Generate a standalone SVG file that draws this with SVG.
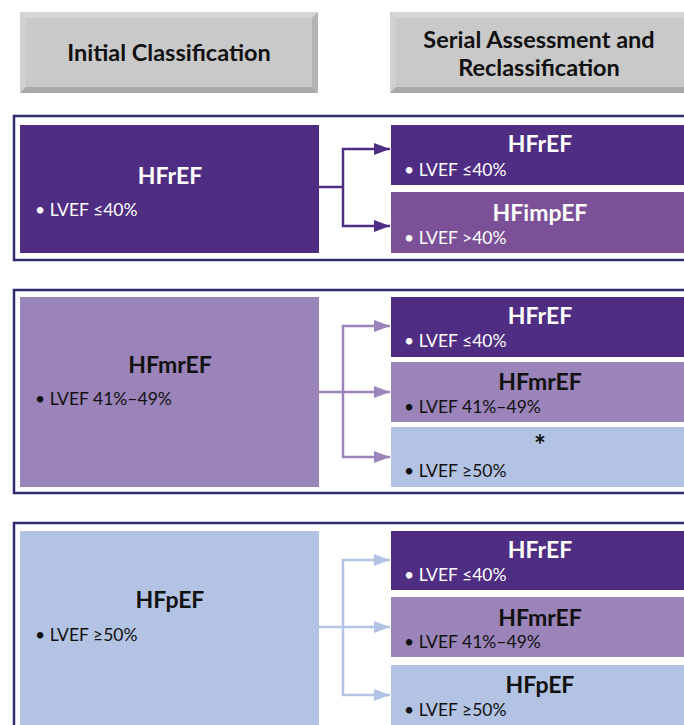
<svg xmlns="http://www.w3.org/2000/svg" width="684" height="725" viewBox="0 0 684 725">
<style>
.hdr{font-family:Lato,"Liberation Sans",sans-serif;font-weight:bold;font-size:23.5px;fill:#111111;text-anchor:middle}
.t{font-family:Lato,"Liberation Sans",sans-serif;font-weight:bold;font-size:23px;text-anchor:middle}
.b{font-family:Lato,"Liberation Sans",sans-serif;font-size:17.5px}
.w{fill:#ffffff}
.k{fill:#111111}
.panel{fill:none;stroke:#2e2c6e;stroke-width:2.5}
.c1{fill:none;stroke:#4f2d82;stroke-width:2.5}
.c2{fill:none;stroke:#9b84b9;stroke-width:2.5}
.c3{fill:none;stroke:#b3c3e3;stroke-width:2.5}
</style>
<defs>
<marker id="a1" viewBox="0 0 16 12" refX="16" refY="6" markerWidth="16" markerHeight="12" markerUnits="userSpaceOnUse" orient="auto"><path d="M0,0 L16,6 L0,12 Z" fill="#4f2d82"/></marker>
<marker id="a2" viewBox="0 0 16 12" refX="16" refY="6" markerWidth="16" markerHeight="12" markerUnits="userSpaceOnUse" orient="auto"><path d="M0,0 L16,6 L0,12 Z" fill="#9b84b9"/></marker>
<marker id="a3" viewBox="0 0 16 12" refX="16" refY="6" markerWidth="16" markerHeight="12" markerUnits="userSpaceOnUse" orient="auto"><path d="M0,0 L16,6 L0,12 Z" fill="#b3c3e3"/></marker>
</defs>
<rect width="684" height="725" fill="#ffffff"/>

<g id="header-initial">
<rect x="20" y="12" width="298" height="81" fill="#c9c9c9"/>
<polygon points="20,12 318,12 312,18 26,18" fill="#d5d5d5"/>
<polygon points="20,12 26,18 26,87 20,93" fill="#d0d0d0"/>
<polygon points="20,93 26,87 312,87 318,93" fill="#a9a9a9"/>
<polygon points="318,12 318,93 312,87 312,18" fill="#b4b4b4"/>
<text class="hdr" x="169" y="61">Initial Classification</text>
</g>
<g id="header-serial">
<rect x="390" y="12" width="300" height="81" fill="#c9c9c9"/>
<polygon points="390,12 690,12 690,18 396,18" fill="#d5d5d5"/>
<polygon points="390,12 396,18 396,87 390,93" fill="#d0d0d0"/>
<polygon points="390,93 396,87 690,87 690,93" fill="#a9a9a9"/>
<text class="hdr" x="539" y="48">Serial Assessment and</text>
<text class="hdr" x="539" y="76">Reclassification</text>
</g>

<g id="panels">
<rect class="panel" x="14" y="116" width="690" height="144"/>
<rect class="panel" x="14" y="290" width="690" height="203"/>
<rect class="panel" x="14" y="523" width="690" height="220"/>
</g>

<g id="connectors">
<path class="c1" d="M319,187 H343"/>
<path class="c1" d="M343,187 V149 H390" marker-end="url(#a1)"/>
<path class="c1" d="M343,187 V226 H390" marker-end="url(#a1)"/>
<path class="c2" d="M319,392 H343"/>
<path class="c2" d="M343,392 V326 H390" marker-end="url(#a2)"/>
<path class="c2" d="M343,392 H390" marker-end="url(#a2)"/>
<path class="c2" d="M343,392 V457 H390" marker-end="url(#a2)"/>
<path class="c3" d="M319,627 H343"/>
<path class="c3" d="M343,627 V560 H390" marker-end="url(#a3)"/>
<path class="c3" d="M343,627 H390" marker-end="url(#a3)"/>
<path class="c3" d="M343,627 V695 H390" marker-end="url(#a3)"/>
</g>

<g id="p1-initial">
<rect x="20" y="125" width="299" height="128" fill="#4f2d82"/>
<text class="t w" x="170" y="184">HFrEF</text>
<text class="b w" x="35" y="216">• LVEF ≤40%</text>
</g>
<g id="p1-hfref">
<rect x="391" y="125" width="293" height="60" fill="#4f2d82"/>
<text class="t w" x="540" y="152">HFrEF</text>
<text class="b w" x="404" y="176">• LVEF ≤40%</text>
</g>
<g id="p1-hfimpef">
<rect x="391" y="192" width="293" height="61" fill="#7b5096"/>
<text class="t w" x="540" y="221">HFimpEF</text>
<text class="b w" x="404" y="244">• LVEF &gt;40%</text>
</g>

<g id="p2-initial">
<rect x="20" y="297" width="299" height="190" fill="#9b84b9"/>
<text class="t k" x="170" y="373">HFmrEF</text>
<text class="b k" x="35" y="405">• LVEF 41%–49%</text>
</g>
<g id="p2-hfref">
<rect x="391" y="297" width="293" height="60" fill="#4f2d82"/>
<text class="t w" x="540" y="324">HFrEF</text>
<text class="b w" x="404" y="347">• LVEF ≤40%</text>
</g>
<g id="p2-hfmref">
<rect x="391" y="362" width="293" height="60" fill="#9b84b9"/>
<text class="t k" x="540" y="390">HFmrEF</text>
<text class="b k" x="404" y="413">• LVEF 41%–49%</text>
</g>
<g id="p2-star">
<rect x="391" y="427" width="293" height="60" fill="#b3c3e3"/>
<text class="t k" x="540" y="455" style="font-size:28px">*</text>
<text class="b k" x="404" y="477">• LVEF ≥50%</text>
</g>

<g id="p3-initial">
<rect x="20" y="531" width="299" height="194" fill="#b3c3e3"/>
<text class="t k" x="170" y="608">HFpEF</text>
<text class="b k" x="35" y="641">• LVEF ≥50%</text>
</g>
<g id="p3-hfref">
<rect x="391" y="531" width="293" height="59" fill="#4f2d82"/>
<text class="t w" x="540" y="558">HFrEF</text>
<text class="b w" x="404" y="581">• LVEF ≤40%</text>
</g>
<g id="p3-hfmref">
<rect x="391" y="597" width="293" height="60" fill="#9b84b9"/>
<text class="t k" x="540" y="626">HFmrEF</text>
<text class="b k" x="404" y="648">• LVEF 41%–49%</text>
</g>
<g id="p3-hfpef">
<rect x="391" y="665" width="293" height="60" fill="#b3c3e3"/>
<text class="t k" x="540" y="693">HFpEF</text>
<text class="b k" x="404" y="716">• LVEF ≥50%</text>
</g>
</svg>
